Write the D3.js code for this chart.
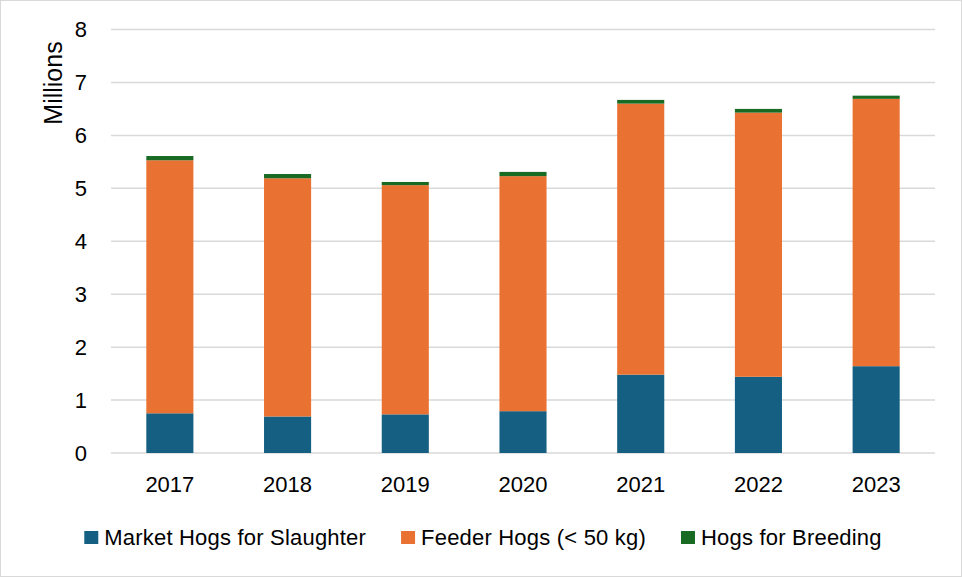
<!DOCTYPE html>
<html>
<head>
<meta charset="utf-8">
<script src="https://cdn.jsdelivr.net/npm/d3@7"></script>
<style>
  body { margin: 0; background: #fff; }
  text { font-family: "Liberation Sans", Arial, sans-serif; fill: #000; }
</style>
</head>
<body>
<svg id="chart" width="962" height="577"></svg>
<script>
var width = 962;
var height = 577;

// data (millions of head)
var years = ["2017", "2018", "2019", "2020", "2021", "2022", "2023"];
var marketHogs = [0.75, 0.69, 0.73, 0.79, 1.48, 1.44, 1.64];
var feederHogs = [4.78, 4.50, 4.33, 4.44, 5.12, 4.99, 5.05];
var breedingHogs = [0.08, 0.08, 0.06, 0.08, 0.07, 0.07, 0.06];
var seriesNames = ["Market Hogs for Slaughter", "Feeder Hogs (< 50 kg)", "Hogs for Breeding"];
var yTicks = [0, 1, 2, 3, 4, 5, 6, 7, 8];

var colors = ["#156082", "#E97132", "#196B24"];
var keys = ["market", "feeder", "breeding"];

var rows = years.map(function(y, i) {
  return { year: y, market: marketHogs[i], feeder: feederHogs[i], breeding: breedingHogs[i] };
});

var svg = d3.select("#chart");

svg.append("rect")
  .attr("x", 0.5).attr("y", 0.5)
  .attr("width", width - 1).attr("height", height - 1)
  .attr("fill", "#fff").attr("stroke", "#d9d9d9");

var plotLeft = 111, plotRight = 935, plotTop = 29.5, plotBottom = 453;

var x = d3.scaleBand().domain(years).range([plotLeft, plotRight]).paddingInner(0.6).paddingOuter(0.3);
var y = d3.scaleLinear().domain([0, 8]).range([plotBottom, plotTop]);

// gridlines
svg.append("g").selectAll("line")
  .data(yTicks)
  .enter().append("line")
  .attr("x1", plotLeft).attr("x2", plotRight)
  .attr("y1", function(d) { return y(d); })
  .attr("y2", function(d) { return y(d); })
  .attr("stroke", "#d9d9d9").attr("stroke-width", 1.5);

// y axis labels
var yAxis = d3.axisLeft(y).tickValues(yTicks).tickSize(0).tickPadding(24);
var yg = svg.append("g").attr("transform", "translate(" + plotLeft + ",0)").call(yAxis);
yg.select(".domain").remove();
yg.selectAll("text").style("font-size", "22px").attr("fill", "#000");

// x axis labels
var xAxis = d3.axisBottom(x).tickSize(0).tickPadding(0);
var xg = svg.append("g").attr("transform", "translate(0," + plotBottom + ")").call(xAxis);
xg.select(".domain").remove();
xg.selectAll("text").style("font-size", "22px").attr("fill", "#000")
  .attr("y", 38.5).attr("dy", null);

// stacked bars
var stack = d3.stack().keys(keys);
var layers = stack(rows);

svg.append("g").selectAll("g")
  .data(layers)
  .enter().append("g")
  .attr("fill", function(d, i) { return colors[i]; })
  .selectAll("rect")
  .data(function(d) { return d; })
  .enter().append("rect")
  .attr("x", function(d) { return x(d.data.year); })
  .attr("width", x.bandwidth())
  .attr("y", function(d) { return y(d[1]); })
  .attr("height", function(d) { return y(d[0]) - y(d[1]); });

// y title
svg.append("text")
  .attr("transform", "translate(62,83) rotate(-90)")
  .attr("text-anchor", "middle")
  .style("font-size", "25px")
  .text("Millions");

// legend
var legend = svg.append("g");
var lx = 0;
seriesNames.forEach(function(name, i) {
  var g = legend.append("g").attr("transform", "translate(" + lx + ",0)");
  g.append("rect").attr("x", 0).attr("y", -6.5).attr("width", 14).attr("height", 13).attr("fill", colors[i]);
  var t = g.append("text").attr("x", 20).attr("dy", "0.35em")
    .style("font-size", "22px").style("letter-spacing", "0.2px").text(name);
  lx += 20 + t.node().getComputedTextLength() + 35;
});
var legendWidth = lx - 35;
legend.attr("transform", "translate(" + ((width - legendWidth) / 2 + 2) + ",537.5)");
</script>
</body>
</html>
